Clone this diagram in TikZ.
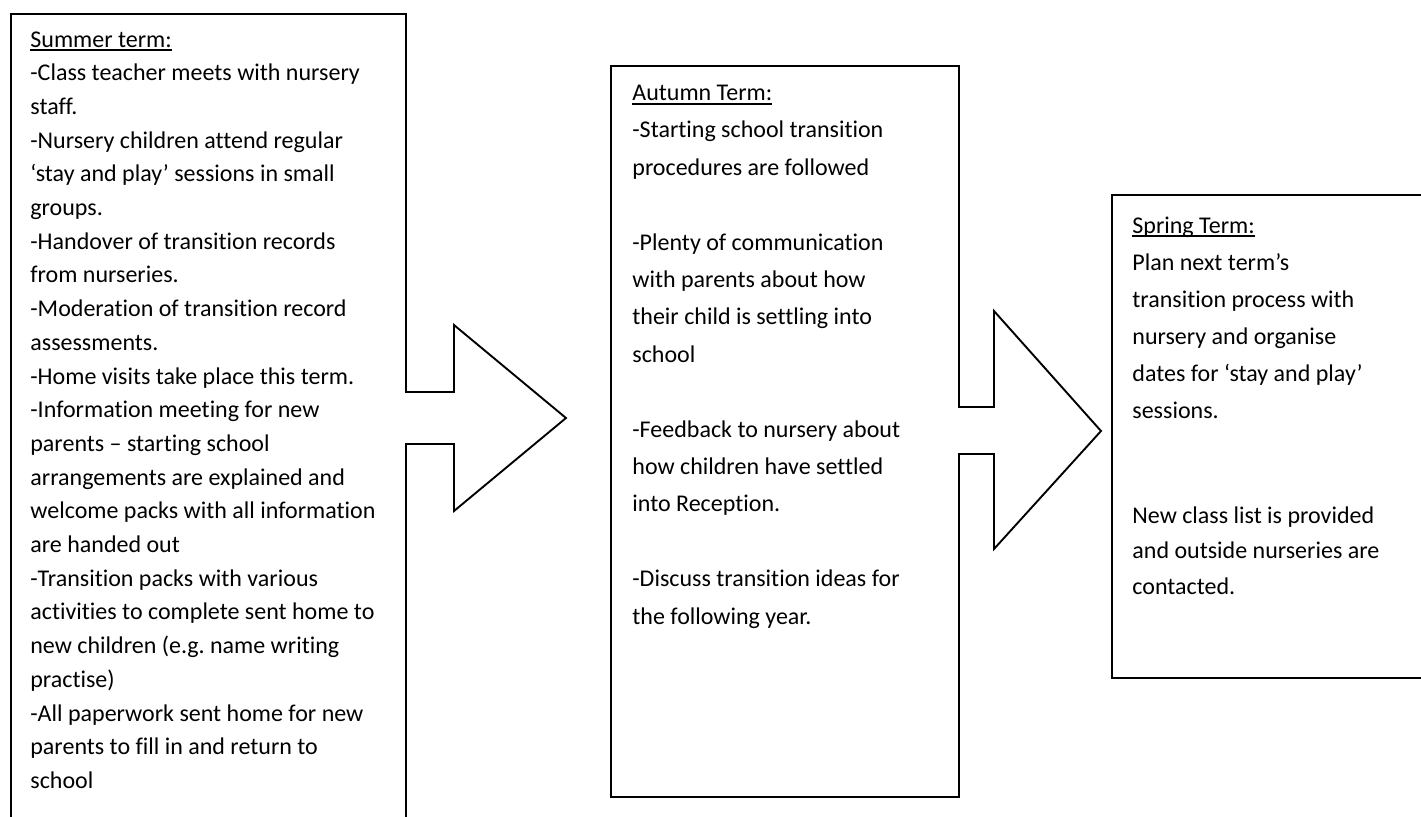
\documentclass[tikz,border=0pt]{standalone}
\usepackage{fontspec}
\setmainfont{Carlito}[Ligatures=NoCommon]
\frenchspacing
\newcommand\tline[1]{\hbox{#1}}
\newcommand\hdr[1]{\setbox0\hbox{#1}\rlap{\vrule height -1.2pt depth 2.0pt width \wd0}\box0}
\tikzset{
  boxstyle/.style={draw, line width=0.95pt, rectangle, anchor=north west, inner sep=0pt},
  txt/.style={anchor=base west, inner sep=0pt, font=\fontsize{12pt}{14pt}\selectfont},
  blockarrow/.style={draw, line width=0.95pt, line join=miter},
}
\begin{document}
\begin{tikzpicture}[x=0.5pt,y=-0.5pt]
\useasboundingbox (0,0) rectangle (1421,816);
\clip (0,0) rectangle (1421,816);
% boxes
\node[boxstyle, minimum width=197.5pt, minimum height=408.5pt] (summer) at (10,13) {};
\node[boxstyle, minimum width=174pt, minimum height=365.5pt] (autumn) at (610,65) {};
\node[boxstyle, minimum width=157pt, minimum height=241.5pt] (spring) at (1111,194) {};
% block arrow 1
\fill[white] (398,392) -- (454,392) -- (454,325) -- (566,418) -- (454,511) -- (454,444) -- (398,444) -- cycle;
\draw[blockarrow] (405,392) -- (454,392) -- (454,325) -- (566,418) -- (454,511) -- (454,444) -- (405,444);
% block arrow 2
\fill[white] (951,407) -- (994,407) -- (994,311) -- (1101,431) -- (994,549) -- (994,454) -- (951,454) -- cycle;
\draw[blockarrow] (958,407) -- (994,407) -- (994,311) -- (1101,431) -- (994,549) -- (994,454) -- (958,454);
% texts
\node[txt] (summertxt) at (30,47) {\vtop{\baselineskip=16.85pt
\tline{\hdr{Summer term:}}
\tline{-Class teacher meets with nursery}
\tline{staff.}
\tline{-Nursery children attend regular}
\tline{‘stay and play’ sessions in small}
\tline{groups.}
\tline{-Handover of transition records}
\tline{from nurseries.}
\tline{-Moderation of transition record}
\tline{assessments.}
\tline{-Home visits take place this term.}
\tline{-Information meeting for new}
\tline{parents – starting school}
\tline{arrangements are explained and}
\tline{welcome packs with all information}
\tline{are handed out}
\tline{-Transition packs with various}
\tline{activities to complete sent home to}
\tline{new children (e.g. name writing}
\tline{practise)}
\tline{-All paperwork sent home for new}
\tline{parents to fill in and return to}
\tline{school}}};
\node[txt] (autumntxt) at (632,100.5) {\vtop{\baselineskip=18.7pt
\tline{\hdr{Autumn Term:}}
\tline{-Starting school transition}
\tline{procedures are followed}
\tline{}
\tline{-Plenty of communication}
\tline{with parents about how}
\tline{their child is settling into}
\tline{school}
\tline{}
\tline{-Feedback to nursery about}
\tline{how children have settled}
\tline{into Reception.}
\tline{}
\tline{-Discuss transition ideas for}
\tline{the following year.}}};
\node[txt] (springtxt) at (1132,233) {\vtop{\baselineskip=18.5pt
\tline{\hdr{Spring Term:}}
\tline{Plan next term’s}
\tline{transition process with}
\tline{nursery and organise}
\tline{dates for ‘stay and play’}
\tline{sessions.}}};
\node[txt] (springtxtb) at (1132,523) {\vtop{\baselineskip=17.8pt
\tline{New class list is provided}
\tline{and outside nurseries are}
\tline{contacted.}}};
\end{tikzpicture}
\end{document}
